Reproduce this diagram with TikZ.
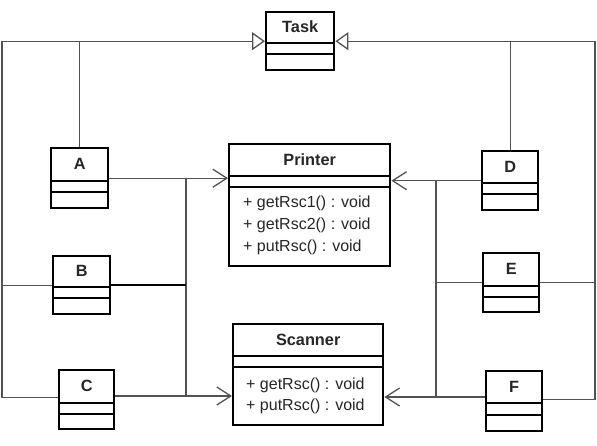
\documentclass[tikz,border=0pt]{standalone}
\usepackage{fontspec}
\setmainfont{Liberation Sans}
\usetikzlibrary{arrows.meta,calc}
\tikzset{
  clsbox/.style={draw=black, line width=2.4pt, anchor=north west, inner sep=0pt},
  sepline/.style={draw=black, line width=1.3pt},
  ttl/.style={font=\fontsize{16.3}{18}\selectfont\bfseries, text=black!85, inner sep=0pt},
  meth/.style={font=\fontsize{16}{18}\selectfont, text=black!85, anchor=west, inner sep=0pt},
  conn/.style={draw=black!68, line width=1.3pt},
  gen/.style={conn, -{Triangle[open, fill=white, length=13pt, width=18pt, line width=1.3pt]}},
  dep/.style={conn, -{Straight Barb[length=14pt, width=18pt, line width=1.3pt]}},
}
\newcommand{\umlcls}[8]{%
  \node[clsbox, minimum width=#4pt, minimum height=#5pt] (#1) at (#2,#3) {};
  \draw[sepline] (#1.west |- 0,#6) -- (#1.east |- 0,#6);
  \draw[sepline] (#1.west |- 0,#7) -- (#1.east |- 0,#7);
  \node[ttl] (#1-t) at ($(#1.north)!0.5!(#1.north |- 0,#6)$) {#8};
}
\begin{document}
\begin{tikzpicture}[x=1pt, y=-1pt]
\useasboundingbox (0,0) rectangle (597,445);
% classes: name, x, y, w, h, sep1, sep2, title
\umlcls{Task}{265}{11}{68}{58}{43}{54}{Task}
\umlcls{A}{50}{147}{57}{60}{181}{192}{A}
\umlcls{B}{52}{255}{57}{58}{287}{298}{B}
\umlcls{C}{58}{369}{55}{59}{403}{414}{C}
\umlcls{D}{481}{150}{56}{59}{183}{194}{D}
\umlcls{E}{482}{252}{56}{59}{286}{297}{E}
\umlcls{F}{485}{370}{56}{60}{403}{415}{F}
\umlcls{Printer}{228}{143}{161}{122}{176}{187}{Printer}
\umlcls{Scanner}{232}{323}{150}{101}{356}{367}{Scanner}
% methods
\node[meth] (p1) at (243,203) {+ getRsc1() : void};
\node[meth] (p2) at (243,225) {+ getRsc2() : void};
\node[meth] (p3) at (243,247) {+ putRsc() : void};
\node[meth] (s1) at (246,385) {+ getRsc() : void};
\node[meth] (s2) at (246,406) {+ putRsc() : void};
% bus coordinates
\coordinate (L) at (2,0);
\coordinate (R) at (595,0);
\coordinate (M1) at (186,0);
\coordinate (M2) at (436,0);
% generalization
\draw[gen] ([yshift=2pt]C.west) -| (L |- Task.west) -- (Task.west);
\draw[conn] (B.west) -- (L |- B.west);
\draw[conn] (A.north) -- (A.north |- Task.west);
\draw[gen] ([yshift=2pt]F.east) -| (R |- Task.east) -- (Task.east);
\draw[conn] (E.east) -- (R |- E.east);
\draw[conn] (D.north) -- (D.north |- Task.east);
% dependencies left
\draw[dep] (A.east) -- (Printer.west |- A.east);
\draw[conn] (M1 |- A.east) -- (M1 |- 0,396);
\draw[conn, draw=black, line width=2pt] (B.east) -- (M1 |- B.east);
\draw[dep] (C.east |- 0,396) -- (Scanner.west |- 0,396);
% dependencies right
\draw[dep] (D.west) -- (Printer.east |- D.west);
\draw[conn] (M2 |- D.west) -- (M2 |- 0,397);
\draw[conn] (E.west) -- (M2 |- E.west);
\draw[dep] (F.west |- 0,397) -- (Scanner.east |- 0,397);
\end{tikzpicture}
\end{document}
